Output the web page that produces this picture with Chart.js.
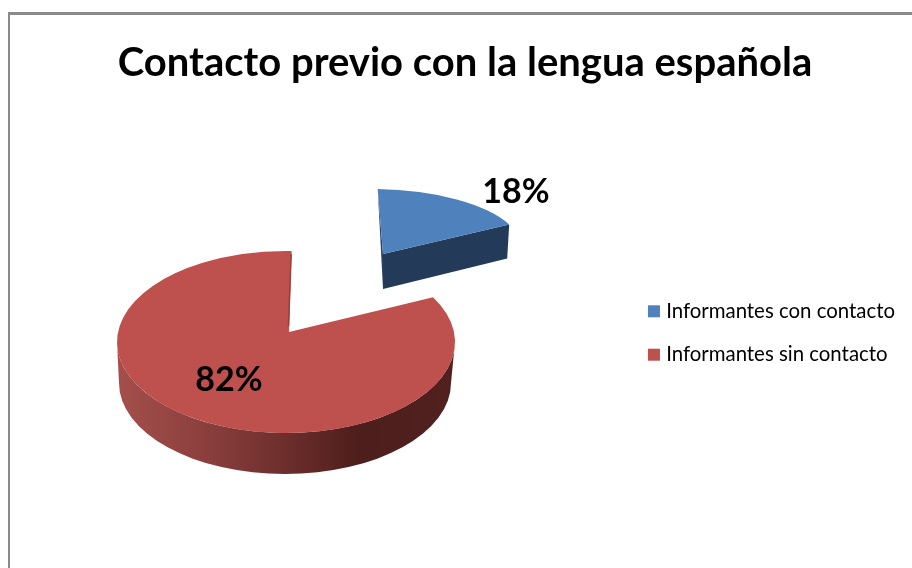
<!DOCTYPE html>
<html>
<head>
<meta charset="utf-8">
<style>
html,body{margin:0;padding:0;background:#fff;overflow:hidden}
#wrap{position:relative;width:912px;height:568px}
#frame{position:absolute;left:8px;top:12px;right:0;bottom:0;border-top:3px solid #8a8a8a;border-left:2px solid #8a8a8a}
canvas{position:absolute;left:0;top:0}
</style>
<script src="https://cdn.jsdelivr.net/npm/chart.js@4"></script>
</head>
<body>
<div id="wrap"><canvas id="c" width="912" height="568"></canvas><div id="frame"></div></div>
<script>
const chartTitle = 'Contacto previo con la lengua española';
const categories = ['Informantes con contacto', 'Informantes sin contacto'];
const values = [18, 82];
const sliceColors = ['#4f81bd', '#be504d'];

// projection of each slice's tilted 3D disc
const discs = [
  {cx:371, cy:247, a:150, b:58, ax:383, ay:254, tiltStart:-1.8, tiltEnd:-6, depth:35, label:[516,192]},
  {cx:286, cy:342, a:169, b:91, ax:289, ay:332, tiltStart:1, tiltEnd:1, depth:41, label:[229,380]}
];

function rimAngle(d, ang, tilt) {
  const th = ang + Math.PI/2 + tilt*Math.PI/180;
  const dx = Math.sin(th), dy = -Math.cos(th);
  const ox = (d.ax-d.cx)/d.a, oy = (d.ay-d.cy)/d.b;
  const od = ox*dx + oy*dy;
  const s = -od + Math.sqrt(od*od + 1 - ox*ox - oy*oy);
  return Math.atan2(oy + s*dy, ox + s*dx);
}

const pie3d = {
  id: 'pie3d',
  beforeDatasetDraw(chart) {
    const ctx = chart.ctx;
    const arcs = chart.getDatasetMeta(0).data;
    arcs.forEach((arc, i) => {
      const d = discs[i];
      const t1 = rimAngle(d, arc.startAngle, d.tiltStart), t2 = rimAngle(d, arc.endAngle, d.tiltEnd);
      const p1 = [d.cx + d.a*Math.cos(t1), d.cy + d.b*Math.sin(t1)];
      const p2 = [d.cx + d.a*Math.cos(t2), d.cy + d.b*Math.sin(t2)];
      ctx.save();
      if (i === 0) {
        // left sliver and front cut face
        ctx.fillStyle = '#2a4363';
        ctx.beginPath();
        ctx.moveTo(p1[0], p1[1]);
        ctx.lineTo(d.ax, d.ay);
        ctx.lineTo(d.ax, d.ay + d.depth);
        ctx.closePath();
        ctx.fill();
        ctx.fillStyle = '#233a58';
        ctx.beginPath();
        ctx.moveTo(d.ax, d.ay);
        ctx.lineTo(p2[0], p2[1]);
        ctx.lineTo(p2[0]-2, p2[1] + d.depth - 1);
        ctx.lineTo(d.ax, d.ay + d.depth);
        ctx.closePath();
        ctx.fill();
      } else {
        // outer rim
        const g = ctx.createLinearGradient(d.cx-d.a, 0, d.cx+d.a, 0);
        g.addColorStop(0, '#a54f4c');
        g.addColorStop(0.25, '#8c403e');
        g.addColorStop(0.5, '#6c2e2c');
        g.addColorStop(0.72, '#4d1e1c');
        g.addColorStop(1, '#512120');
        ctx.fillStyle = g;
        ctx.beginPath();
        ctx.ellipse(d.cx, d.cy, d.a, d.b, 0, 0, Math.PI);
        ctx.ellipse(d.cx-1, d.cy + d.depth, d.a-3, d.b, 0, Math.PI, 0, true);
        ctx.closePath();
        ctx.fill();
      }
      // top face
      ctx.fillStyle = sliceColors[i];
      ctx.beginPath();
      ctx.moveTo(d.ax, d.ay);
      ctx.ellipse(d.cx, d.cy, d.a, d.b, 0, t1, t2);
      ctx.closePath();
      ctx.fill();
      if (i === 1) {
        // inner wall seen through the gap
        ctx.strokeStyle = '#9b3e3b';
        ctx.lineWidth = 1.5;
        ctx.beginPath();
        ctx.moveTo(p2[0]-0.5, p2[1]+3);
        ctx.lineTo(d.ax-0.5, d.ay-6);
        ctx.stroke();
      }
      ctx.restore();
    });
    ctx.save();
    ctx.fillStyle = '#000';
    ctx.font = 'bold 34px Lato';
    ctx.textAlign = 'center';
    ctx.textBaseline = 'middle';
    arcs.forEach((arc, i) => ctx.fillText(values[i] + '%', discs[i].label[0], discs[i].label[1]));
    ctx.restore();
    return false;
  }
};

new Chart(document.getElementById('c'), {
  type: 'pie',
  data: {
    labels: categories,
    datasets: [{ data: values, backgroundColor: sliceColors, borderWidth: 0 }]
  },
  options: {
    responsive: false,
    animation: false,
    layout: { padding: { left: 25, right: 7, top: 0, bottom: -98 } },
    plugins: {
      tooltip: { enabled: false },
      title: {
        display: true,
        text: chartTitle,
        color: '#000',
        font: { family: 'Lato', weight: 'bold', size: 40 },
        padding: { top: 39, bottom: 14 }
      },
      legend: {
        position: 'right',
        labels: {
          color: '#333',
          font: { family: 'Lato', size: 20.4 },
          boxWidth: 4,
          boxHeight: 4,
          padding: 23,
          generateLabels(chart) {
            return categories.map((text, i) => ({
              text, index: i, fillStyle: sliceColors[i], strokeStyle: sliceColors[i], lineWidth: 8, hidden: false
            }));
          }
        }
      }
    }
  },
  plugins: [pie3d]
});
</script>
</body>
</html>
